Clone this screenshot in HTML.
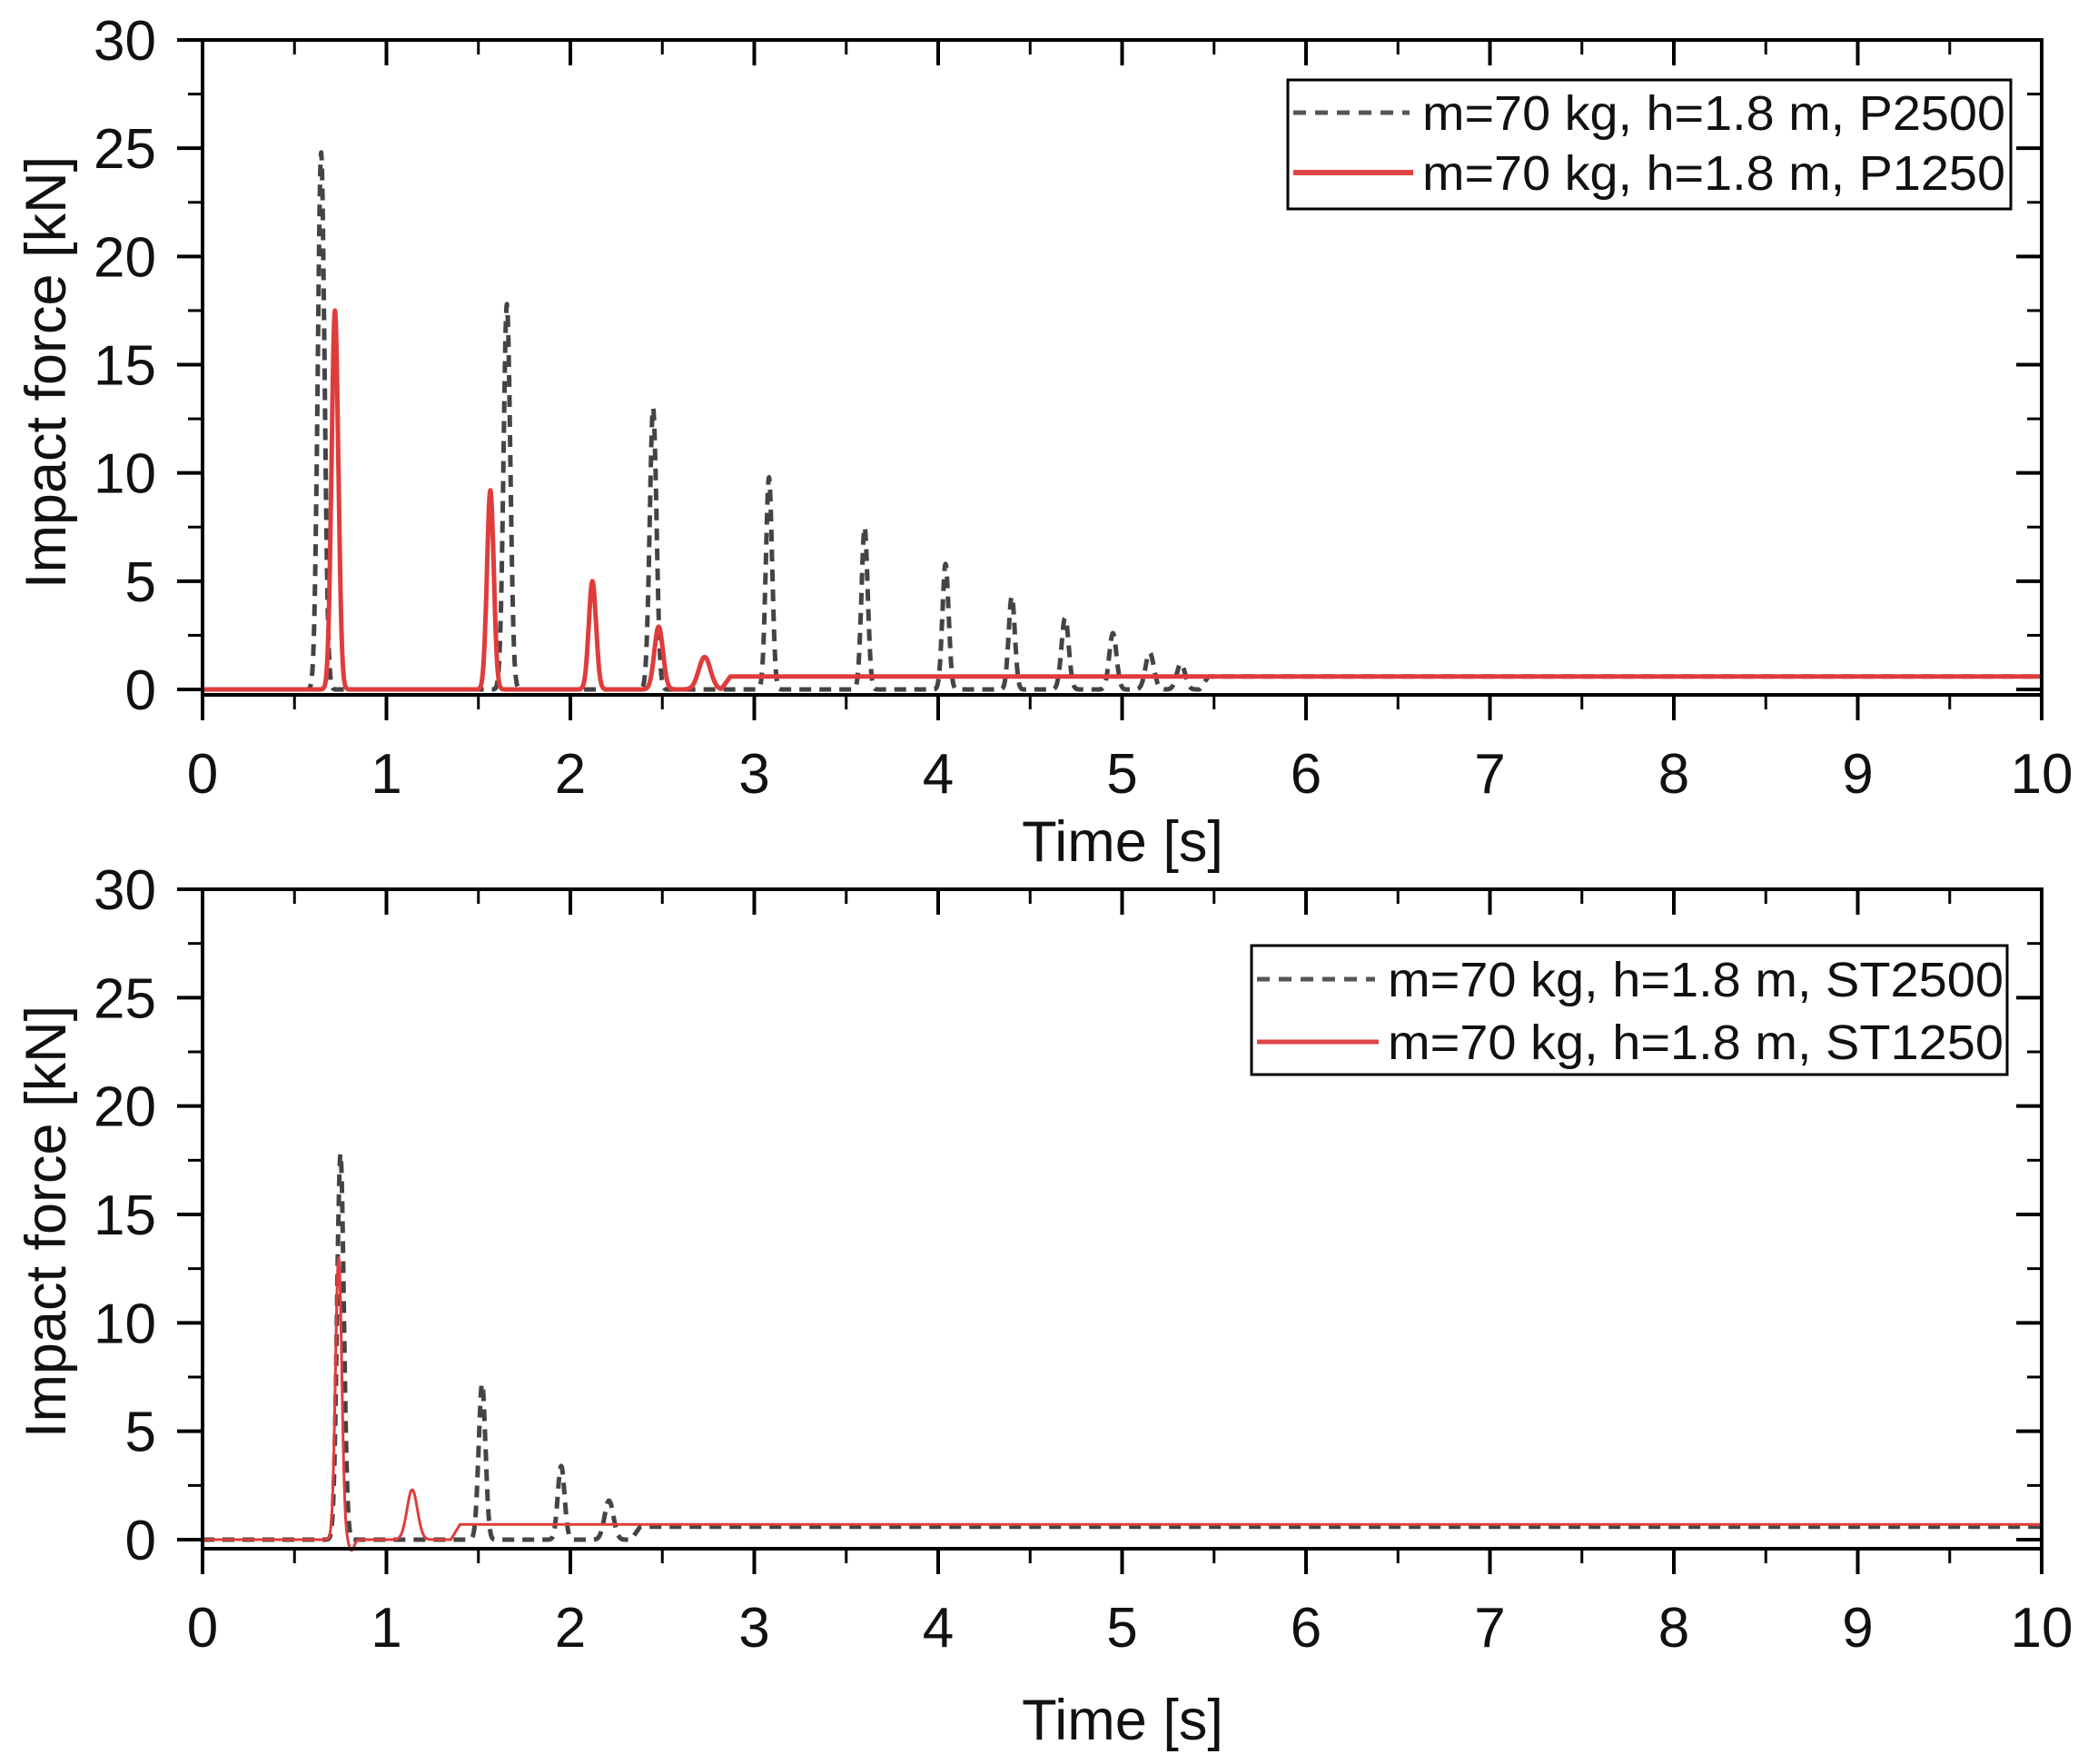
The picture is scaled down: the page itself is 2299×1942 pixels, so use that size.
<!DOCTYPE html>
<html><head><meta charset="utf-8">
<style>html,body{margin:0;padding:0;background:#fff;}svg{display:block;}</style>
</head><body>
<svg id="s" width="2299" height="1942" viewBox="0 0 2299 1942" xmlns="http://www.w3.org/2000/svg" font-family="Liberation Sans, Arial, sans-serif">
<rect width="2299" height="1942" fill="#fff"/>
<g id="g"></g>
</svg>
<script>
const NS="http://www.w3.org/2000/svg";
const g=document.getElementById('g');
function el(tag,attrs,txt){const e=document.createElementNS(NS,tag);for(const k in attrs)e.setAttribute(k,attrs[k]);if(txt!==undefined)e.textContent=txt;g.appendChild(e);return e;}
const X0=223,X1=2248;
function sx(t){return X0+(X1-X0)*t/10;}
function panel(Ytop,Y0,Yax,series,legend){
  const sy=v=>Y0-(Y0-Ytop)*v/30;
  for(const s of series){
    let d="";
    for(let i=0;i<=4000;i++){const t=i/400;const v=s.f(t);d+=(i?"L":"M")+sx(t).toFixed(1)+" "+sy(v).toFixed(1);}
    el('path',{d:d,fill:'none',stroke:s.c,'stroke-width':s.w,'stroke-dasharray':s.dash||'none','stroke-linejoin':'round'});
  }
  el('rect',{x:X0,y:Ytop,width:X1-X0,height:Yax-Ytop,fill:'none',stroke:'#000','stroke-width':4});
  for(let i=0;i<=20;i++){const x=sx(i/2);const maj=i%2==0;
    el('line',{x1:x,y1:Yax,x2:x,y2:Yax+(maj?28:16),stroke:'#000','stroke-width':maj?4:3});
    el('line',{x1:x,y1:Ytop,x2:x,y2:Ytop+(maj?28:16),stroke:'#000','stroke-width':maj?4:3});
    if(maj)el('text',{x:x,y:Yax+108,'font-size':62,'text-anchor':'middle',fill:'#111'},String(i/2));
  }
  for(let i=0;i<=12;i++){const v=i*2.5;const y=sy(v);const maj=i%2==0;
    el('line',{x1:X0,y1:y,x2:X0-(maj?28:16),y2:y,stroke:'#000','stroke-width':maj?4:3});
    el('line',{x1:X1,y1:y,x2:X1-(maj?28:16),y2:y,stroke:'#000','stroke-width':maj?4:3});
    if(maj)el('text',{x:172,y:y+22,'font-size':62,'text-anchor':'end',fill:'#111'},String(v));
  }
  const L=legend;
  el('rect',{x:L.x,y:L.y,width:L.w,height:L.h,fill:'#fff',stroke:'#000','stroke-width':3});
  el('line',{x1:L.x+6,y1:L.r1,x2:L.tx-14,y2:L.r1,stroke:'#555','stroke-width':5,'stroke-dasharray':'14 10'});
  el('line',{x1:L.x+6,y1:L.r2,x2:L.tx-10,y2:L.r2,stroke:'#e04444','stroke-width':L.rw});
  el('text',{x:L.tx,y:L.r1+19,'font-size':54,fill:'#111',textLength:L.tl,lengthAdjust:'spacingAndGlyphs'},L.t1);
  el('text',{x:L.tx,y:L.r2+19,'font-size':54,fill:'#111',textLength:L.tl,lengthAdjust:'spacingAndGlyphs'},L.t2);
}
function mk(peaks,ts,base){return t=>{let v=t>ts?base*Math.min(1,(t-ts)/0.05):0;for(const p of peaks){v+=p[1]*Math.exp(-Math.pow((t-p[0])/p[2],2));}return v;};}
const p2500=mk([[0.645,24.8,0.026],[1.655,17.8,0.026],[2.45,13,0.026],[3.08,9.8,0.024],[3.6,7.5,0.024],[4.04,5.8,0.024],[4.4,4.3,0.024],[4.69,3.3,0.028],[4.95,2.6,0.028],[5.15,1.7,0.032],[5.32,1.2,0.032]],5.42,0.6);
const p1250=mk([[0.72,17.5,0.026],[1.565,9.2,0.026],[2.12,5,0.028],[2.48,2.9,0.033],[2.73,1.5,0.045]],2.82,0.6);
panel(44,759,765,[
 {f:p2500,c:'#444',w:5,dash:'13 9'},
 {f:p1250,c:'#e03c3c',w:5}
],{x:1418,y:88,w:796,h:142,r1:124,r2:190,tx:1566,tl:642,rw:6,t1:'m=70 kg, h=1.8 m, P2500',t2:'m=70 kg, h=1.8 m, P1250'});
const st2500=mk([[0.75,17.8,0.026],[1.52,7.2,0.026],[1.95,3.4,0.026],[2.21,1.8,0.034]],2.33,0.6);
const st1250base=mk([[0.74,13,0.024],[1.14,2.3,0.04]],1.35,0.7);
const st1250=t=>st1250base(t)-0.5*Math.exp(-Math.pow((t-0.81)/0.02,2));
panel(979,1695,1705,[
 {f:st2500,c:'#444',w:5,dash:'13 9'},
 {f:st1250,c:'#e03c3c',w:3}
],{x:1378,y:1041,w:832,h:142,r1:1078,r2:1147,tx:1528,tl:678,rw:5,t1:'m=70 kg, h=1.8 m, ST2500',t2:'m=70 kg, h=1.8 m, ST1250'});
el('text',{x:1236,y:948,'font-size':63,'text-anchor':'middle',fill:'#111'},'Time [s]');
el('text',{x:1236,y:1915,'font-size':63,'text-anchor':'middle',fill:'#111'},'Time [s]');
el('text',{x:0,y:0,'font-size':63,'text-anchor':'middle',fill:'#111',transform:'translate(72,410) rotate(-90)'},'Impact force [kN]');
el('text',{x:0,y:0,'font-size':63,'text-anchor':'middle',fill:'#111',transform:'translate(72,1345) rotate(-90)'},'Impact force [kN]');
</script>
</body></html>
